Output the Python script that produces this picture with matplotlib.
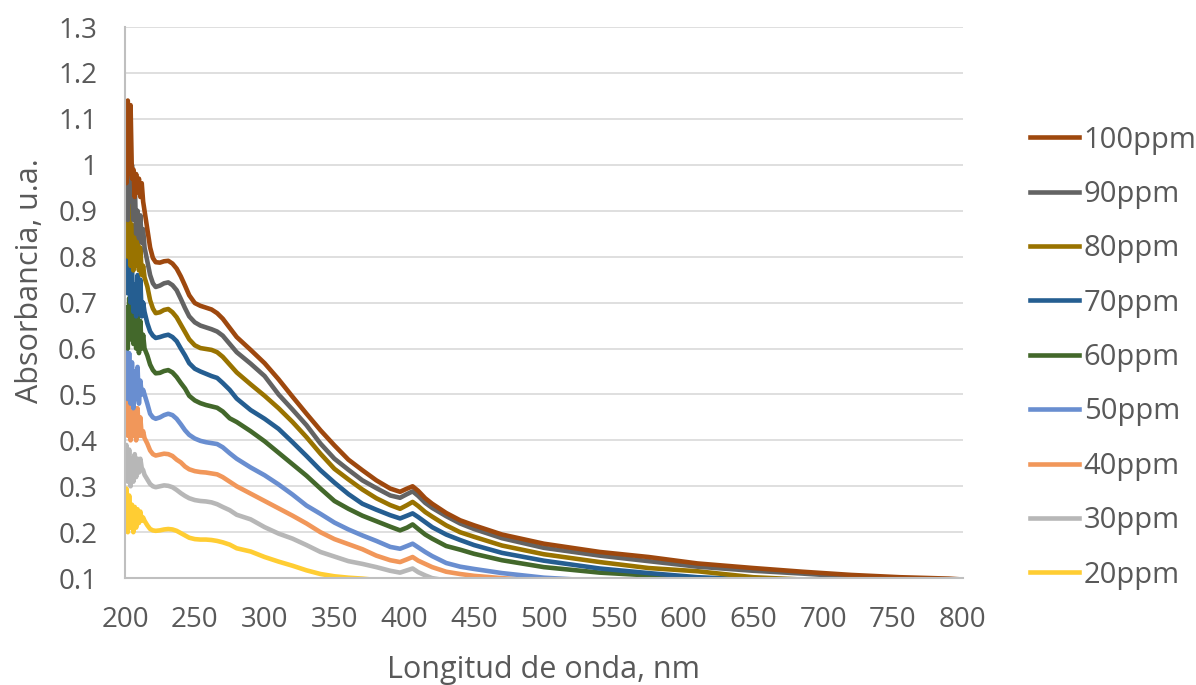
import matplotlib
matplotlib.use("Agg")
import matplotlib.pyplot as plt
from matplotlib.ticker import FuncFormatter, MultipleLocator

plt.rcParams['font.family'] = ['Open Sans', 'DejaVu Sans']

# wavelength grid (nm): 1 nm steps over the noisy start, coarser afterwards
wl = [200, 201, 202, 203, 204, 205, 206, 207, 208, 209, 210, 211, 212, 213,
      214, 216, 218, 220, 222, 225, 228, 231, 234, 237,
      240, 243, 246, 250, 254, 258, 262, 266, 270, 275,
      280, 290, 300, 310, 320, 330, 340, 350, 360, 370,
      380, 390, 397, 402, 406, 410, 415, 420, 430, 440,
      450, 470, 500, 540, 575, 610, 650, 685, 720, 755,
      790, 800]

a100 = [1.10, 0.96, 1.14, 0.98, 1.13, 0.97, 0.99, 0.93, 0.98, 0.94, 0.97, 0.93, 0.96, 0.92,
        0.90, 0.86, 0.82, 0.797, 0.788, 0.787, 0.79, 0.791, 0.785, 0.774,
        0.757, 0.737, 0.716, 0.699, 0.693, 0.689, 0.685, 0.677, 0.665, 0.645,
        0.625, 0.597, 0.568, 0.533, 0.495, 0.458, 0.422, 0.389, 0.358, 0.335,
        0.313, 0.295, 0.288, 0.295, 0.30, 0.29, 0.274, 0.262, 0.242, 0.226,
        0.215, 0.195, 0.175, 0.157, 0.146, 0.132, 0.122, 0.114, 0.107, 0.102,
        0.099, 0.097]
a90 = [0.90, 0.98, 0.88, 1.05, 0.92, 1.00, 0.88, 0.96, 0.85, 0.90, 0.84, 0.89, 0.83, 0.86,
       0.82, 0.79, 0.76, 0.742, 0.734, 0.737, 0.742, 0.744, 0.738, 0.727,
       0.708, 0.688, 0.67, 0.657, 0.65, 0.646, 0.642, 0.637, 0.628, 0.61,
       0.592, 0.567, 0.54, 0.50, 0.467, 0.433, 0.393, 0.36, 0.336, 0.313,
       0.296, 0.28, 0.275, 0.283, 0.289, 0.279, 0.264, 0.253, 0.235, 0.219,
       0.207, 0.187, 0.166, 0.149, 0.137, 0.125, 0.116, 0.11, 0.103, 0.099,
       0.096, 0.095]
a80 = [0.85, 1.01, 0.80, 0.96, 0.78, 0.87, 0.77, 0.86, 0.78, 0.84, 0.77, 0.82, 0.76, 0.78,
       0.755, 0.735, 0.705, 0.687, 0.677, 0.679, 0.684, 0.686, 0.679, 0.668,
       0.652, 0.636, 0.62, 0.607, 0.601, 0.599, 0.597, 0.592, 0.582, 0.565,
       0.548, 0.522, 0.497, 0.47, 0.44, 0.407, 0.371, 0.338, 0.315, 0.293,
       0.274, 0.259, 0.251, 0.259, 0.266, 0.257, 0.244, 0.234, 0.215, 0.20,
       0.19, 0.171, 0.152, 0.135, 0.122, 0.115, 0.102, 0.097, 0.094, 0.092,
       0.09, 0.09]
a70 = [0.80, 0.915, 0.72, 0.90, 0.70, 0.78, 0.68, 0.74, 0.67, 0.76, 0.68, 0.75, 0.67, 0.70,
       0.68, 0.655, 0.637, 0.628, 0.623, 0.625, 0.628, 0.63, 0.625, 0.616,
       0.60, 0.585, 0.568, 0.556, 0.55, 0.545, 0.54, 0.536, 0.525, 0.51,
       0.491, 0.466, 0.447, 0.425, 0.396, 0.366, 0.335, 0.308, 0.283, 0.262,
       0.249, 0.237, 0.23, 0.236, 0.241, 0.233, 0.222, 0.211, 0.195, 0.183,
       0.172, 0.155, 0.138, 0.121, 0.111, 0.102, 0.097, 0.094, 0.092, 0.09,
       0.088, 0.088]
a60 = [0.63, 0.69, 0.60, 0.71, 0.62, 0.73, 0.61, 0.70, 0.60, 0.68, 0.59, 0.66, 0.60, 0.63,
       0.60, 0.585, 0.565, 0.553, 0.546, 0.547, 0.551, 0.553, 0.548, 0.538,
       0.525, 0.513, 0.497, 0.487, 0.481, 0.477, 0.474, 0.471, 0.463, 0.448,
       0.44, 0.42, 0.398, 0.373, 0.348, 0.323, 0.295, 0.268, 0.251, 0.236,
       0.224, 0.212, 0.204, 0.21, 0.217, 0.207, 0.195, 0.186, 0.17, 0.162,
       0.153, 0.139, 0.124, 0.112, 0.106, 0.10, 0.096, 0.093, 0.09, 0.088,
       0.086, 0.086]
a50 = [0.52, 0.60, 0.49, 0.59, 0.48, 0.57, 0.47, 0.55, 0.49, 0.56, 0.48, 0.53, 0.50, 0.51,
       0.50, 0.48, 0.458, 0.45, 0.447, 0.45, 0.455, 0.458, 0.455, 0.447,
       0.435, 0.422, 0.412, 0.404, 0.399, 0.396, 0.394, 0.392, 0.385, 0.372,
       0.36, 0.341, 0.324, 0.304, 0.282, 0.258, 0.24, 0.221, 0.206, 0.193,
       0.181, 0.168, 0.164, 0.17, 0.175, 0.167, 0.157, 0.148, 0.133, 0.125,
       0.12, 0.111, 0.101, 0.094, 0.09, 0.087, 0.085, 0.083, 0.082, 0.081,
       0.08, 0.08]
a40 = [0.44, 0.50, 0.41, 0.49, 0.40, 0.46, 0.41, 0.47, 0.40, 0.47, 0.41, 0.45, 0.41, 0.42,
       0.405, 0.393, 0.378, 0.37, 0.367, 0.369, 0.371, 0.37, 0.366, 0.358,
       0.352, 0.343, 0.337, 0.333, 0.331, 0.33, 0.328, 0.326, 0.32, 0.31,
       0.30, 0.284, 0.268, 0.252, 0.236, 0.219, 0.20, 0.185, 0.174, 0.163,
       0.149, 0.139, 0.135, 0.141, 0.146, 0.138, 0.131, 0.124, 0.114, 0.109,
       0.105, 0.10, 0.094, 0.09, 0.087, 0.085, 0.083, 0.082, 0.081, 0.08,
       0.08, 0.08]
a30 = [0.33, 0.39, 0.31, 0.38, 0.30, 0.36, 0.31, 0.37, 0.32, 0.36, 0.33, 0.36, 0.34, 0.335,
       0.325, 0.315, 0.305, 0.30, 0.298, 0.30, 0.302, 0.301, 0.298, 0.292,
       0.285, 0.279, 0.274, 0.27, 0.268, 0.267, 0.265, 0.261, 0.255, 0.248,
       0.238, 0.228, 0.211, 0.197, 0.186, 0.172, 0.157, 0.147, 0.137, 0.131,
       0.124, 0.116, 0.112, 0.117, 0.121, 0.113, 0.106, 0.10, 0.095, 0.092,
       0.09, 0.087, 0.085, 0.083, 0.082, 0.081, 0.08, 0.08, 0.08, 0.08,
       0.08, 0.08]
a20 = [0.22, 0.295, 0.20, 0.28, 0.21, 0.26, 0.20, 0.255, 0.21, 0.25, 0.22, 0.245, 0.225, 0.232,
       0.225, 0.215, 0.207, 0.204, 0.203, 0.204, 0.206, 0.207, 0.206, 0.203,
       0.198, 0.193, 0.188, 0.185, 0.184, 0.184, 0.183, 0.181, 0.178, 0.173,
       0.165, 0.158, 0.146, 0.136, 0.127, 0.117, 0.109, 0.104, 0.101, 0.099,
       0.096, 0.094, 0.093, 0.093, 0.094, 0.092, 0.09, 0.089, 0.088, 0.087,
       0.086, 0.085, 0.084, 0.083, 0.082, 0.081, 0.08, 0.08, 0.08, 0.08,
       0.08, 0.08]

labels = ['100ppm', '90ppm', '80ppm', '70ppm', '60ppm', '50ppm', '40ppm', '30ppm', '20ppm']
series = [a100, a90, a80, a70, a60, a50, a40, a30, a20]
colors = ['#9E480E', '#636363', '#997300', '#255E91', '#43682B',
          '#698ED0', '#F1975A', '#B7B7B7', '#FFCD33']

txt = '#595959'

fig = plt.figure(figsize=(11.96, 6.85), dpi=100)
ax = fig.add_axes([0.1045, 0.156, 0.7005, 0.8045])

# draw lowest concentration first so higher ones sit on top
for lab, ys, c in reversed(list(zip(labels, series, colors))):
    ax.plot(wl, ys, color=c, lw=3.3, label=lab, solid_joinstyle='round')

ax.set_xlim(200, 800)
ax.set_ylim(0.1, 1.3)
ax.xaxis.set_major_locator(MultipleLocator(50))
ax.yaxis.set_major_locator(MultipleLocator(0.1))
ax.yaxis.set_major_formatter(FuncFormatter(lambda v, p: '%g' % round(v, 2)))

ax.grid(axis='y', color='#D9D9D9', lw=1.2)
ax.set_axisbelow(True)
for s in ['top', 'right']:
    ax.spines[s].set_visible(False)
for s in ['left', 'bottom']:
    ax.spines[s].set_color('#BFBFBF')
    ax.spines[s].set_linewidth(1.5)
ax.tick_params(length=0, labelsize=20, labelcolor=txt)
ax.tick_params(axis='y', pad=20)
ax.tick_params(axis='x', pad=20)

ax.set_xlabel('Longitud de onda, nm', fontsize=22, color=txt)
ax.set_ylabel('Absorbancia, u.a.', fontsize=22, color=txt)
ax.xaxis.set_label_coords(0.5, -0.14)
ax.yaxis.set_label_coords(-0.095, 0.54)

handles, labs = ax.get_legend_handles_labels()
leg = fig.legend(handles[::-1], labs[::-1], loc='center left',
                 bbox_to_anchor=(0.861, 0.478), frameon=False, fontsize=21,
                 handlelength=1.7, handletextpad=0.15, labelspacing=0.87,
                 borderpad=0, borderaxespad=0)
for t in leg.get_texts():
    t.set_color(txt)

fig.savefig('out.png', dpi=100)
